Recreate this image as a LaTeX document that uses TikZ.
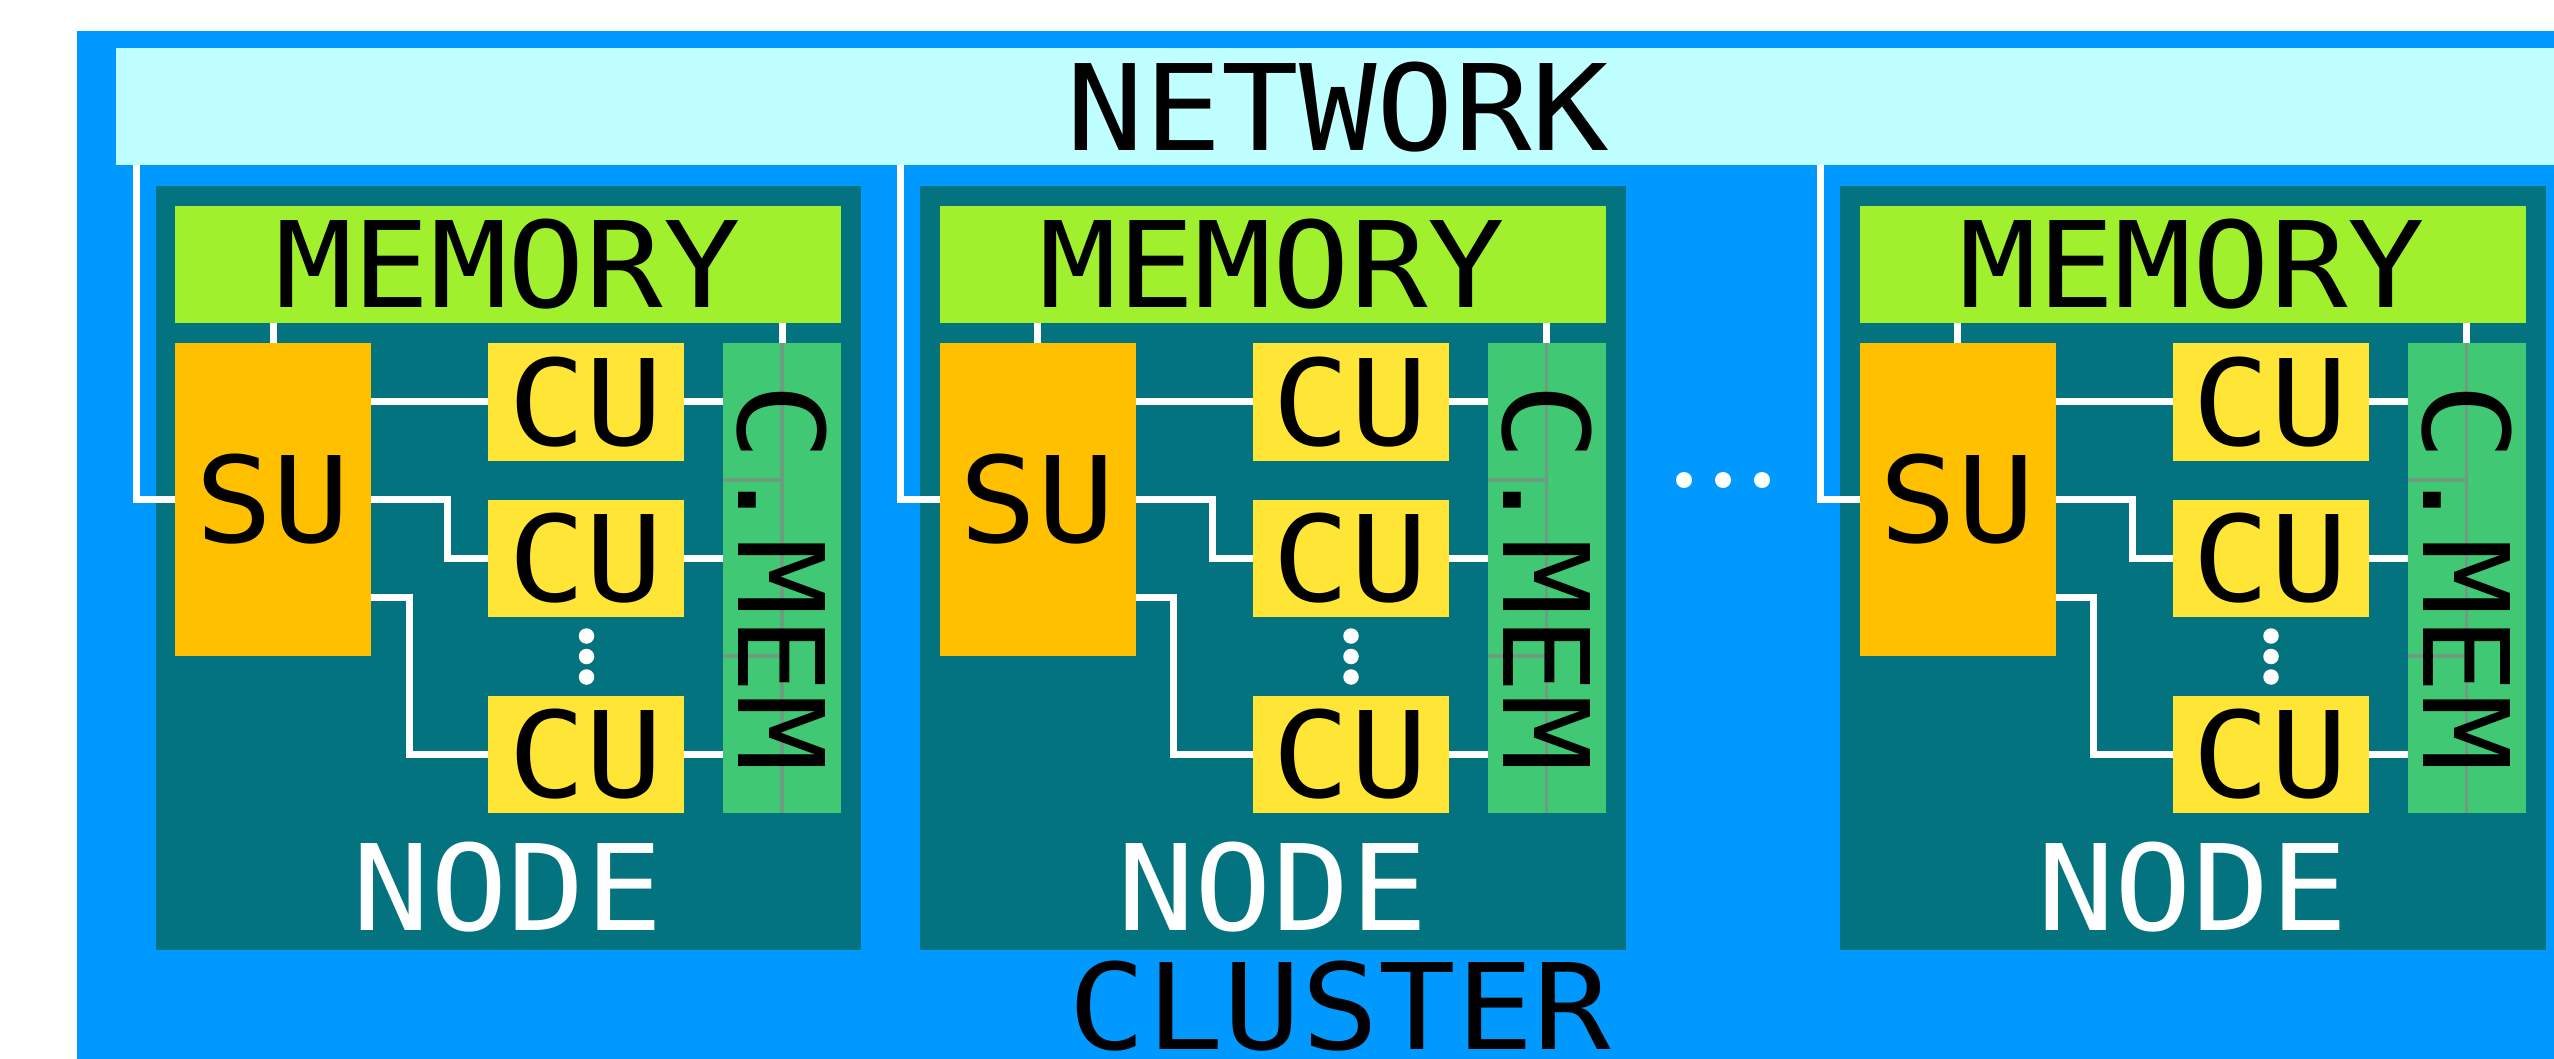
\documentclass[tikz,border=0pt]{standalone}
\usepackage{fontspec}
\newfontfamily\diagmono{DejaVu Sans Mono}[FakeStretch=1.08]
\newcommand\bigtxt{\diagmono\fontsize{119.3pt}{130pt}\selectfont}
\usetikzlibrary{calc}
\definecolor{clusterblue}{HTML}{0099FF}
\definecolor{netcyan}{HTML}{C0FFFF}
\definecolor{nodeteal}{HTML}{037380}
\definecolor{memgreen}{HTML}{A0F02E}
\definecolor{suorange}{HTML}{FFC000}
\definecolor{cuyellow}{HTML}{FFE535}
\definecolor{cmemgreen}{HTML}{40C874}
\definecolor{gridgray}{HTML}{6E9C80}
\begin{document}
\begin{tikzpicture}[x=1pt,y=-1pt,
  box/.style={rectangle, inner sep=0pt, outer sep=0pt, draw=none, font=\bigtxt, text=black},
  clusterbox/.style={box, fill=clusterblue, minimum width=2526pt, minimum height=1039pt},
  netbox/.style={box, fill=netcyan, minimum width=2444pt, minimum height=117pt},
  nodebox/.style={box, fill=nodeteal, minimum width=705.5pt, minimum height=764pt},
  membox/.style={box, fill=memgreen, minimum width=666pt, minimum height=117pt},
  subox/.style={box, fill=suorange, minimum width=196pt, minimum height=313pt},
  cubox/.style={box, fill=cuyellow, minimum width=196pt, minimum height=117.5pt},
  cmembox/.style={box, fill=cmemgreen, minimum width=118pt, minimum height=469.5pt},
  lbl/.style={inner sep=0pt, outer sep=0pt, font=\bigtxt},
  wire/.style={draw=white, line width=7pt, line join=miter},
  gridline/.style={draw=gridgray, line width=3.5pt},
  dotmark/.style={circle, fill=white, inner sep=0pt, minimum size=15.5pt}
]
\useasboundingbox (0,0) rectangle (2554,1059);
\clip (0,0) rectangle (2554,1059);

\node[clusterbox] (cluster) at (1340,550.5) {};
\node[netbox] (net) at (1338,107) {NETWORK};
\node[lbl, text=black] (clusterlabel) at (1340,1006) {CLUSTER};

\foreach \i/\dx in {1/0,2/764.5,3/1684.5}{
\begin{scope}[xshift=\dx pt]
  \node[nodebox] (node\i) at (508.25,568) {};
  \node[membox] (mem\i) at (508,264.5) {MEMORY};
  \node[subox] (su\i) at (273,499.5) {SU};
  \node[cubox] (cua\i) at (586,401.75) {CU};
  \node[cubox] (cub\i) at (586,558.25) {CU};
  \node[cubox] (cuc\i) at (586,754.25) {CU};
  \node[cmembox] (cmem\i) at (782,577.75) {};
  \draw[gridline] (cmem\i.north) -- (cmem\i.south);
  \draw[gridline] ($(cmem\i.north west)+(0,137)$) -- ($(cmem\i.north)+(0,137)$);
  \draw[gridline] ($(cmem\i.north west)+(0,313)$) -- ($(cmem\i.north)+(0,313)$);
  \node[lbl, rotate=-90, text=black] (cmemtext\i) at (cmem\i.center) {C.MEM};
  \node[lbl, text=white] (nodelabel\i) at (508,887) {NODE};
  \coordinate (netdrop\i) at (136,0);
  % connectors
  \draw[wire] (netdrop\i |- net.south) |- (su\i.west);
  \draw[wire] (su\i.north |- mem\i.south) -- (su\i.north);
  \draw[wire] (cmem\i.north |- mem\i.south) -- (cmem\i.north);
  \draw[wire] (su\i.east |- cua\i.west) -- (cua\i.west);
  \draw[wire] (su\i.east) -- ++(76.7,0) |- (cub\i.west);
  \draw[wire] ($(su\i.east)+(0,98)$) -- ($(su\i.east)+(38,98)$) |- (cuc\i.west);
  \draw[wire] (cua\i.east) -- (cua\i.east -| cmem\i.west);
  \draw[wire] (cub\i.east) -- (cub\i.east -| cmem\i.west);
  \draw[wire] (cuc\i.east) -- (cuc\i.east -| cmem\i.west);
  \node[dotmark] (vdota\i) at (586.5,636) {};
  \node[dotmark] (vdotb\i) at (586.5,656.5) {};
  \node[dotmark] (vdotc\i) at (586.5,677) {};
\end{scope}
}
\node[dotmark, minimum size=16pt] (hdota) at (1684,480) {};
\node[dotmark, minimum size=16pt] (hdotb) at (1723,480) {};
\node[dotmark, minimum size=16pt] (hdotc) at (1762,480) {};
\end{tikzpicture}
\end{document}
